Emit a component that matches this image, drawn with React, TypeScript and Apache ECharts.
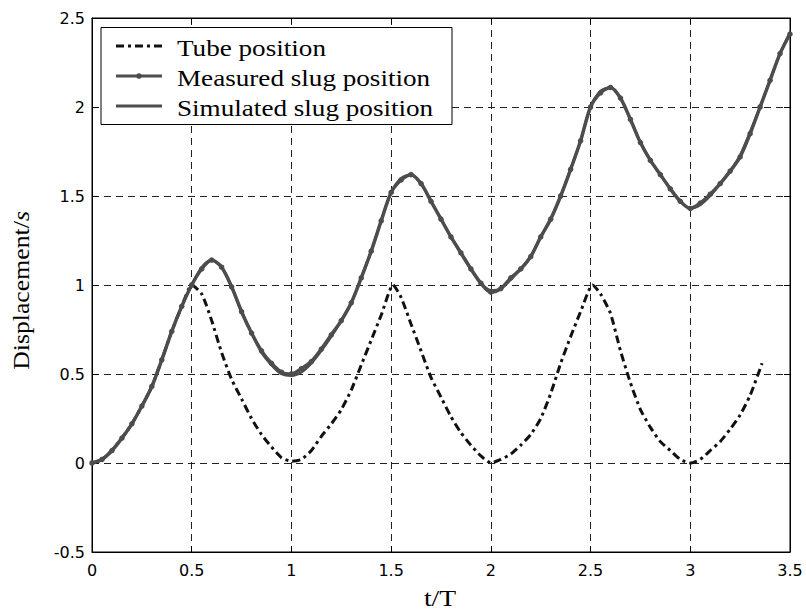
import React, { useEffect, useRef } from "react";
import * as echarts from "echarts";

const slugTimes = [
  0, 0.05, 0.1, 0.15, 0.2, 0.25, 0.3, 0.35, 0.4, 0.45, 0.5, 0.55, 0.6, 0.65, 0.7, 0.75, 0.8, 0.85, 0.9, 0.95,
  1.0, 1.05, 1.1, 1.15, 1.2, 1.25, 1.3, 1.35, 1.4, 1.45, 1.5, 1.55, 1.6, 1.65, 1.7, 1.75, 1.8, 1.85, 1.9, 1.95,
  2.0, 2.05, 2.1, 2.15, 2.2, 2.25, 2.3, 2.35, 2.4, 2.45, 2.5, 2.55, 2.6, 2.65, 2.7, 2.75, 2.8, 2.85, 2.9, 2.95,
  3.0, 3.05, 3.1, 3.15, 3.2, 3.25, 3.3, 3.35, 3.4, 3.45, 3.5,
];

const measuredSlug = [
  0.0, 0.02, 0.07, 0.14, 0.22, 0.32, 0.43, 0.58, 0.74, 0.88, 1.0, 1.09, 1.14, 1.1, 0.99, 0.85, 0.73, 0.63, 0.56, 0.51,
  0.5, 0.53, 0.57, 0.64, 0.72, 0.8, 0.9, 1.04, 1.19, 1.36, 1.52, 1.59, 1.62, 1.57, 1.47, 1.37, 1.27, 1.18, 1.09, 1.01,
  0.96, 0.98, 1.04, 1.09, 1.16, 1.27, 1.37, 1.5, 1.65, 1.81, 2.0, 2.08, 2.11, 2.05, 1.93, 1.8, 1.7, 1.62, 1.54, 1.47,
  1.43, 1.46, 1.51, 1.57, 1.64, 1.72, 1.85, 2.0, 2.15, 2.3, 2.41,
];

const simulatedSlug = [
  0.0, 0.02, 0.07, 0.14, 0.22, 0.32, 0.43, 0.58, 0.74, 0.88, 1.0, 1.1, 1.14, 1.1, 0.99, 0.85, 0.73, 0.62, 0.55, 0.5,
  0.49, 0.51, 0.56, 0.63, 0.71, 0.8, 0.9, 1.04, 1.19, 1.36, 1.52, 1.6, 1.62, 1.57, 1.47, 1.37, 1.27, 1.18, 1.09, 1.01,
  0.97, 0.98, 1.03, 1.09, 1.16, 1.27, 1.37, 1.5, 1.65, 1.81, 2.0, 2.09, 2.11, 2.05, 1.93, 1.8, 1.7, 1.62, 1.54, 1.47,
  1.43, 1.45, 1.5, 1.57, 1.64, 1.73, 1.86, 2.0, 2.15, 2.3, 2.42,
];

const tubeTimes = [
  0, 0.05, 0.1, 0.15, 0.2, 0.25, 0.3, 0.35, 0.4, 0.45, 0.5, 0.55, 0.6, 0.65, 0.7, 0.75, 0.8, 0.85, 0.9, 0.95,
  1.0, 1.05, 1.1, 1.15, 1.2, 1.25, 1.3, 1.35, 1.4, 1.45, 1.51, 1.55, 1.6, 1.65, 1.7, 1.75, 1.8, 1.85, 1.9, 1.95,
  2.0, 2.05, 2.1, 2.15, 2.2, 2.25, 2.3, 2.35, 2.4, 2.45, 2.51, 2.55, 2.6, 2.65, 2.7, 2.75, 2.8, 2.85, 2.9, 2.95,
  3.0, 3.05, 3.1, 3.15, 3.2, 3.25, 3.3, 3.36,
];

const tubePosition = [
  0.0, 0.02, 0.07, 0.14, 0.22, 0.32, 0.43, 0.58, 0.74, 0.88, 1.0, 0.95, 0.8, 0.62, 0.47, 0.36, 0.25, 0.16, 0.09, 0.03,
  0.01, 0.02, 0.07, 0.15, 0.22, 0.3, 0.41, 0.55, 0.69, 0.83, 1.0, 0.93, 0.78, 0.63, 0.48, 0.37, 0.26, 0.17, 0.1, 0.04,
  0.0, 0.02, 0.05, 0.1, 0.16, 0.25, 0.39, 0.56, 0.71, 0.85, 1.0, 0.95, 0.84, 0.63, 0.45, 0.3, 0.2, 0.12, 0.07, 0.02,
  0.0, 0.02, 0.07, 0.12, 0.19, 0.27, 0.38, 0.56,
];

const xTicks = [0, 0.5, 1, 1.5, 2, 2.5, 3, 3.5];
const yTicks = [-0.5, 0, 0.5, 1, 1.5, 2, 2.5];

const seriesNames = ["Tube position", "Measured slug position", "Simulated slug position"];

const SLUG = "#4d4d4d";
const TUBE = "#111";
const TUBE_DASH = [8, 4, 3, 4];
const SERIF = "Liberation Serif, Times New Roman, serif";

export default function App() {
  const ref = useRef<HTMLDivElement>(null);
  useEffect(() => {
    if (!ref.current) return;
    const chart = echarts.init(ref.current, undefined, { renderer: "svg" });
    const tick = {
      fontFamily: "DejaVu Sans, Arial, sans-serif",
      fontSize: 16,
      color: "#000",
    };
    const splitLine = {
      show: true,
      lineStyle: { color: "#222", width: 1, type: [7, 5] as any },
    };

    const rowY = [46, 76, 106];
    const Z = 100;
    const legendChildren: any[] = [
      {
        type: "rect",
        z: Z,
        shape: { x: 101, y: 27.5, width: 351, height: 97 },
        style: { fill: "#fff", stroke: "#000", lineWidth: 1 },
      },
      {
        type: "line",
        z: Z + 1,
        shape: { x1: 116, y1: rowY[0], x2: 162, y2: rowY[0] },
        style: { stroke: TUBE, lineWidth: 3, lineDash: TUBE_DASH },
      },
      {
        type: "line",
        z: Z + 1,
        shape: { x1: 116, y1: rowY[1], x2: 162, y2: rowY[1] },
        style: { stroke: SLUG, lineWidth: 3 },
      },
      {
        type: "circle",
        z: Z + 2,
        shape: { cx: 139, cy: rowY[1], r: 2.8 },
        style: { fill: SLUG },
      },
      {
        type: "line",
        z: Z + 1,
        shape: { x1: 116, y1: rowY[2], x2: 162, y2: rowY[2] },
        style: { stroke: SLUG, lineWidth: 3 },
      },
    ];
    seriesNames.forEach((n, i) => {
      legendChildren.push({
        type: "text",
        z: Z + 1,
        x: 177,
        y: rowY[i] + 2.5,
        scaleX: 1.18,
        style: {
          text: n,
          fontFamily: SERIF,
          fontSize: 23,
          fill: "#000",
          align: "left",
          verticalAlign: "middle",
        },
      });
    });

    chart.setOption({
      animation: false,
      backgroundColor: "#fff",
      grid: {
        left: 92,
        right: 16,
        top: 18,
        bottom: 60,
        show: true,
        borderColor: "#000",
        borderWidth: 1,
        backgroundColor: "transparent",
      },
      graphic: [
        ...legendChildren,
        {
          type: "text",
          z: Z,
          x: 21,
          y: 290.5,
          rotation: Math.PI / 2,
          scaleX: 1.12,
          style: {
            text: "{a|Displacement/}{b|s}",
            align: "center",
            verticalAlign: "middle",
            rich: {
              a: { fontFamily: SERIF, fontSize: 23, fill: "#000", color: "#000" },
              b: { fontFamily: SERIF, fontSize: 23, fontStyle: "italic", fill: "#000", color: "#000" },
            },
          },
        },
        {
          type: "text",
          z: Z,
          x: 440,
          y: 598,
          scaleX: 1.2,
          style: {
            text: "t/T",
            fontFamily: SERIF,
            fontSize: 23,
            fill: "#000",
            align: "center",
            verticalAlign: "middle",
          },
        },
      ],
      xAxis: [
        {
          type: "value",
          min: 0,
          max: 3.5,
          interval: 0.5,
          axisLine: { show: true, onZero: false, lineStyle: { color: "#000", width: 1 } },
          axisTick: { show: true, inside: true, length: 6, lineStyle: { color: "#000" } },
          axisLabel: {
            ...tick,
            margin: 10,
            formatter: (v: number) => (xTicks.includes(v) ? String(v) : ""),
          },
          splitLine,
        },
        {
          type: "value",
          position: "top",
          min: 0,
          max: 3.5,
          interval: 0.5,
          axisLine: { show: true, onZero: false, lineStyle: { color: "#000", width: 1 } },
          axisTick: { show: true, inside: true, length: 6, lineStyle: { color: "#000" } },
          axisLabel: { show: false },
          splitLine: { show: false },
        },
      ],
      yAxis: [
        {
          type: "value",
          min: -0.5,
          max: 2.5,
          interval: 0.5,
          axisLine: { show: true, onZero: false, lineStyle: { color: "#000", width: 1 } },
          axisTick: { show: true, inside: true, length: 6, lineStyle: { color: "#000" } },
          axisLabel: {
            ...tick,
            margin: 7,
            formatter: (v: number) => (yTicks.includes(v) ? String(v) : ""),
          },
          splitLine,
        },
        {
          type: "value",
          position: "right",
          min: -0.5,
          max: 2.5,
          interval: 0.5,
          axisLine: { show: true, onZero: false, lineStyle: { color: "#000", width: 1 } },
          axisTick: { show: true, inside: true, length: 6, lineStyle: { color: "#000" } },
          axisLabel: { show: false },
          splitLine: { show: false },
        },
      ],
      series: [
        {
          name: seriesNames[0],
          type: "line",
          data: tubeTimes.map((t, i) => [t, tubePosition[i]]),
          symbol: "none",
          smooth: 0.2,
          z: 3,
          lineStyle: { color: TUBE, width: 3, type: TUBE_DASH as any },
          itemStyle: { color: TUBE },
        },
        {
          name: seriesNames[1],
          type: "line",
          data: slugTimes.map((t, i) => [t, measuredSlug[i]]),
          symbol: "circle",
          symbolSize: 5.5,
          showSymbol: true,
          smooth: 0.3,
          z: 4,
          lineStyle: { color: SLUG, width: 3.5 },
          itemStyle: { color: SLUG },
        },
        {
          name: seriesNames[2],
          type: "line",
          data: slugTimes.map((t, i) => [t, simulatedSlug[i]]),
          symbol: "none",
          smooth: 0.3,
          z: 5,
          lineStyle: { color: SLUG, width: 2.5 },
          itemStyle: { color: SLUG },
        },
      ],
    });
    return () => chart.dispose();
  }, []);
  return <div ref={ref} style={{ width: 806, height: 612, position: "absolute", left: 0, top: 0 }} />;
}
